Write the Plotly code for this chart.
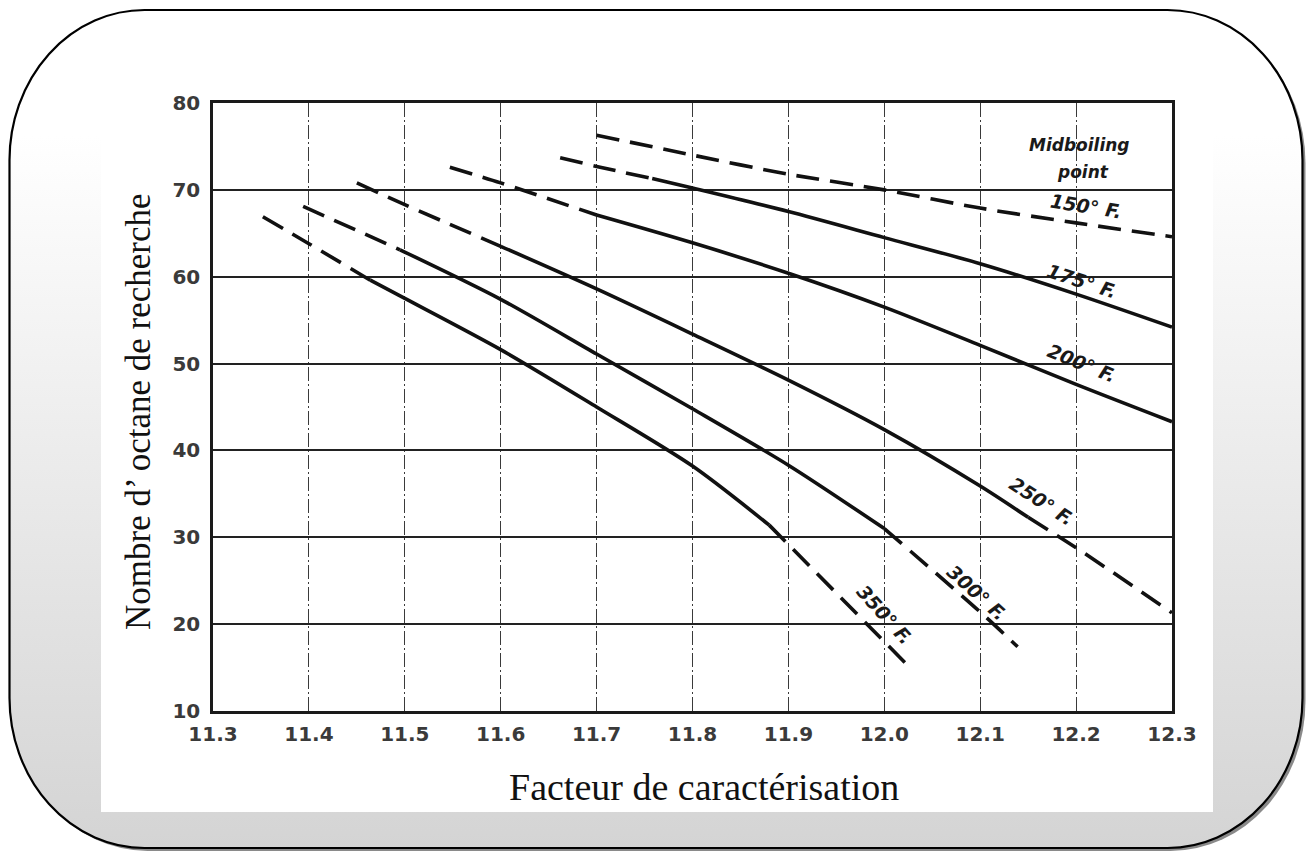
import base64
import plotly.graph_objects as go

# Research octane number vs. characterisation factor, one curve per midboiling point.
# Each curve: x points, y points, and the x-range of the measured (solid) part;
# segments outside that range are drawn dashed as extrapolations.
x_150 = [11.70, 11.80, 11.90, 12.00, 12.10, 12.20, 12.30]
y_150 = [76.3, 74.0, 71.8, 70.0, 67.9, 66.2, 64.6]
solid_150 = None

x_175 = [11.662, 11.70, 11.758, 11.80, 11.90, 12.00, 12.10, 12.20, 12.30]
y_175 = [73.7, 72.7, 71.3, 70.2, 67.5, 64.5, 61.5, 58.0, 54.2]
solid_175 = (11.758, 12.30)

x_200 = [11.547, 11.60, 11.70, 11.80, 11.90, 12.00, 12.10, 12.20, 12.30]
y_200 = [72.6, 70.8, 67.1, 63.9, 60.4, 56.5, 52.1, 47.6, 43.3]
solid_200 = (11.70, 12.30)

x_250 = [11.45, 11.50, 11.60, 11.70, 11.80, 11.90, 12.00, 12.10, 12.15, 12.20, 12.30]
y_250 = [70.8, 68.3, 63.5, 58.6, 53.4, 48.1, 42.4, 35.9, 32.3, 28.8, 21.3]
solid_250 = (11.60, 12.15)

x_300 = [11.394, 11.495, 11.60, 11.70, 11.80, 11.90, 12.00, 12.10, 12.139]
y_300 = [68.1, 63.1, 57.4, 51.1, 44.8, 38.3, 31.0, 21.4, 17.4]
solid_300 = (11.495, 12.00)

x_350 = [11.352, 11.40, 11.464, 11.50, 11.60, 11.70, 11.80, 11.88, 12.024]
y_350 = [66.9, 63.8, 59.6, 57.5, 51.6, 45.0, 38.2, 31.4, 15.3]
solid_350 = (11.464, 11.88)

curve_names = ["150° F.", "175° F.", "200° F.", "250° F.", "300° F.", "350° F."]
curves = [
    (x_150, y_150, solid_150),
    (x_175, y_175, solid_175),
    (x_200, y_200, solid_200),
    (x_250, y_250, solid_250),
    (x_300, y_300, solid_300),
    (x_350, y_350, solid_350),
]

x_ticks = [11.3, 11.4, 11.5, 11.6, 11.7, 11.8, 11.9, 12.0, 12.1, 12.2, 12.3]
y_ticks = [10, 20, 30, 40, 50, 60, 70, 80]

# label placement on the curves: (x, y, angle)
label_pos = [
    (12.210, 68.1, 9),
    (12.206, 59.5, 18),
    (12.206, 50.1, 22),
    (12.164, 34.2, 33),
    (12.097, 23.6, 42),
    (12.001, 21.1, 48),
]

W, H = 1311, 853
L, R, T, B = 213, 139, 103, 142
PW, PH = W - L - R, H - T - B

LINE_W = 3.6
DASH = "23px,11px"

fig = go.Figure()

for name, (xs, ys, solid) in zip(curve_names, curves):
    # group consecutive segments with the same style into one trace
    runs = []
    for i in range(len(xs) - 1):
        is_solid = solid is not None and solid[0] <= xs[i] and xs[i + 1] <= solid[1]
        if runs and runs[-1][0] == is_solid:
            runs[-1][1].append(i + 1)
        else:
            runs.append([is_solid, [i, i + 1]])
    for is_solid, idx in runs:
        fig.add_trace(go.Scatter(
            x=[xs[k] for k in idx],
            y=[ys[k] for k in idx],
            mode="lines",
            name=name,
            showlegend=False,
            hoverinfo="skip",
            line=dict(color="#111111", width=LINE_W, shape="spline", smoothing=0.8,
                      dash="solid" if is_solid else DASH),
        ))

# curve labels
label_font = dict(family="DejaVu Sans", size=19, color="#1a1a1a", style="italic", weight="bold")
for name, (lx, ly, ang) in zip(curve_names, label_pos):
    fig.add_annotation(
        x=lx, y=ly, text=name, showarrow=False, textangle=ang,
        xanchor="center", yanchor="middle", font=label_font,
    )

head_font = dict(family="DejaVu Sans", size=17, color="#1a1a1a", style="italic", weight="bold")
fig.add_annotation(x=12.204, y=75.2, text="Midboiling", showarrow=False, font=head_font)
fig.add_annotation(x=12.207, y=72.0, text="point", showarrow=False, font=head_font)

# axis titles
fig.add_annotation(
    xref="paper", yref="paper", x=(704 - L) / PW, y=(H - B - 787) / PH,
    text="Facteur de caractérisation", showarrow=False,
    xanchor="center", yanchor="middle",
    font=dict(family="Liberation Serif", size=38, color="#111111"),
)
fig.add_annotation(
    xref="paper", yref="paper", x=(138 - L) / PW, y=(H - B - 412) / PH,
    text="Nombre d’ octane de recherche", showarrow=False, textangle=-90,
    xanchor="center", yanchor="middle",
    font=dict(family="Liberation Serif", size=35, color="#111111"),
)

# rounded frame with vertical gradient and drop shadow
frame_svg = f'''<svg xmlns="http://www.w3.org/2000/svg" width="{W}" height="{H}" viewBox="0 0 {W} {H}">
<defs><linearGradient id="g" x1="0" y1="0" x2="0" y2="1">
<stop offset="0" stop-color="#ffffff"/><stop offset="0.15" stop-color="#ffffff"/><stop offset="1" stop-color="#d4d4d4"/>
</linearGradient></defs>
<rect x="12.5" y="13" width="1293" height="838" rx="135" ry="150" fill="#8a8a8a"/>
<rect x="9.5" y="10" width="1293" height="838" rx="135" ry="150" fill="url(#g)" stroke="#000000" stroke-width="2.2"/>
</svg>'''
frame_uri = "data:image/svg+xml;base64," + base64.b64encode(frame_svg.encode("utf-8")).decode("ascii")

fig.add_layout_image(
    source=frame_uri, xref="paper", yref="paper",
    x=-L / PW, y=1 + T / PH, sizex=W / PW, sizey=H / PH,
    xanchor="left", yanchor="top", sizing="stretch", layer="below",
)

# white sheet holding the chart
fig.add_shape(
    type="rect", xref="paper", yref="paper", layer="below",
    x0=(101 - L) / PW, x1=(1213 - L) / PW,
    y0=(H - B - 812) / PH, y1=(H - B - 68) / PH,
    fillcolor="#ffffff", line=dict(width=0),
)

tick_font = dict(family="DejaVu Sans", size=20, color="#3a3a3a", weight="bold")

fig.update_xaxes(
    range=[11.3, 12.3], tickvals=x_ticks, ticktext=[f"{v:.1f}" for v in x_ticks],
    showgrid=True, gridcolor="#3a3a3a", gridwidth=1.4, griddash="14px,3px,2px,3px",
    showline=True, mirror=True, linecolor="#1a1a1a", linewidth=2.5,
    ticks="", ticklabelstandoff=3, tickfont=tick_font, zeroline=False,
)
fig.update_yaxes(
    range=[10, 80], tickvals=y_ticks,
    showgrid=True, gridcolor="#222222", gridwidth=2,
    showline=True, mirror=True, linecolor="#1a1a1a", linewidth=2.5,
    ticks="", ticklabelstandoff=6, tickfont=tick_font, zeroline=False,
)

fig.update_layout(
    width=W, height=H,
    margin=dict(l=L, r=R, t=T, b=B, autoexpand=False),
    paper_bgcolor="#ffffff", plot_bgcolor="#ffffff",
    showlegend=False,
)

fig.write_html("out.html")
